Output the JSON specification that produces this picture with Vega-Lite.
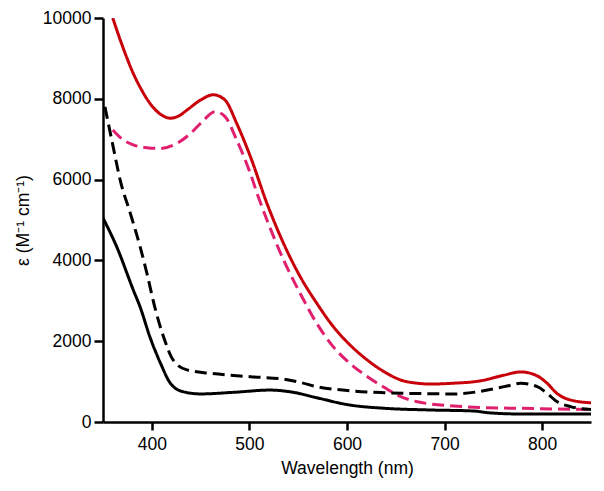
{
  "$schema": "https://vega.github.io/schema/vega-lite/v6.json",
  "autosize": "none",
  "width": 488,
  "height": 404,
  "padding": {"left": 103, "top": 18, "right": 13, "bottom": 69},
  "background": "white",
  "config": {
    "view": {"stroke": null},
    "axis": {
      "grid": false,
      "domainColor": "black",
      "domainWidth": 2.5,
      "tickColor": "black",
      "tickWidth": 2.5,
      "labelFont": "Liberation Sans",
      "labelFontSize": 17.5,
      "labelColor": "black",
      "titleFont": "Liberation Sans",
      "titleFontSize": 17.5,
      "titleFontWeight": "normal",
      "titleColor": "black"
    }
  },
  "data": {
    "values": [
      {"s": "A", "wl": 360, "eps": 10000},
      {"s": "A", "wl": 370, "eps": 9300},
      {"s": "A", "wl": 381, "eps": 8630},
      {"s": "A", "wl": 390, "eps": 8200},
      {"s": "A", "wl": 398, "eps": 7890},
      {"s": "A", "wl": 410, "eps": 7600},
      {"s": "A", "wl": 419, "eps": 7520},
      {"s": "A", "wl": 428, "eps": 7580},
      {"s": "A", "wl": 436, "eps": 7720},
      {"s": "A", "wl": 450, "eps": 7970},
      {"s": "A", "wl": 463, "eps": 8100},
      {"s": "A", "wl": 475, "eps": 7970},
      {"s": "A", "wl": 487, "eps": 7390},
      {"s": "A", "wl": 501, "eps": 6570},
      {"s": "A", "wl": 518, "eps": 5410},
      {"s": "A", "wl": 535, "eps": 4420},
      {"s": "A", "wl": 552, "eps": 3600},
      {"s": "A", "wl": 569, "eps": 2940},
      {"s": "A", "wl": 586, "eps": 2360},
      {"s": "A", "wl": 603, "eps": 1910},
      {"s": "A", "wl": 621, "eps": 1530},
      {"s": "A", "wl": 638, "eps": 1245},
      {"s": "A", "wl": 655, "eps": 1040},
      {"s": "A", "wl": 672, "eps": 960},
      {"s": "A", "wl": 686, "eps": 940},
      {"s": "A", "wl": 709, "eps": 960},
      {"s": "A", "wl": 737, "eps": 1020},
      {"s": "A", "wl": 761, "eps": 1160},
      {"s": "A", "wl": 778, "eps": 1240},
      {"s": "A", "wl": 795, "eps": 1140},
      {"s": "A", "wl": 805, "eps": 960},
      {"s": "A", "wl": 815, "eps": 710},
      {"s": "A", "wl": 829, "eps": 545},
      {"s": "A", "wl": 850, "eps": 475},

      {"s": "B", "wl": 360, "eps": 7230},
      {"s": "B", "wl": 371, "eps": 6980},
      {"s": "B", "wl": 381, "eps": 6860},
      {"s": "B", "wl": 395, "eps": 6790},
      {"s": "B", "wl": 409, "eps": 6770},
      {"s": "B", "wl": 426, "eps": 6900},
      {"s": "B", "wl": 440, "eps": 7150},
      {"s": "B", "wl": 450, "eps": 7390},
      {"s": "B", "wl": 465, "eps": 7680},
      {"s": "B", "wl": 475, "eps": 7560},
      {"s": "B", "wl": 487, "eps": 6980},
      {"s": "B", "wl": 501, "eps": 6150},
      {"s": "B", "wl": 509, "eps": 5580},
      {"s": "B", "wl": 518, "eps": 5000},
      {"s": "B", "wl": 535, "eps": 4010},
      {"s": "B", "wl": 552, "eps": 3185},
      {"s": "B", "wl": 569, "eps": 2440},
      {"s": "B", "wl": 586, "eps": 1860},
      {"s": "B", "wl": 603, "eps": 1450},
      {"s": "B", "wl": 621, "eps": 1120},
      {"s": "B", "wl": 638, "eps": 860},
      {"s": "B", "wl": 655, "eps": 630},
      {"s": "B", "wl": 672, "eps": 500},
      {"s": "B", "wl": 686, "eps": 445},
      {"s": "B", "wl": 709, "eps": 396},
      {"s": "B", "wl": 744, "eps": 354},
      {"s": "B", "wl": 778, "eps": 338},
      {"s": "B", "wl": 812, "eps": 322},
      {"s": "B", "wl": 850, "eps": 310},

      {"s": "C", "wl": 352, "eps": 7800},
      {"s": "C", "wl": 360, "eps": 6860},
      {"s": "C", "wl": 368, "eps": 5950},
      {"s": "C", "wl": 378, "eps": 5165},
      {"s": "C", "wl": 388, "eps": 4340},
      {"s": "C", "wl": 395, "eps": 3680},
      {"s": "C", "wl": 403, "eps": 2850},
      {"s": "C", "wl": 412, "eps": 2110},
      {"s": "C", "wl": 422, "eps": 1530},
      {"s": "C", "wl": 436, "eps": 1290},
      {"s": "C", "wl": 460, "eps": 1205},
      {"s": "C", "wl": 501, "eps": 1120},
      {"s": "C", "wl": 535, "eps": 1060},
      {"s": "C", "wl": 552, "eps": 980},
      {"s": "C", "wl": 569, "eps": 875},
      {"s": "C", "wl": 603, "eps": 775},
      {"s": "C", "wl": 638, "eps": 726},
      {"s": "C", "wl": 686, "eps": 700},
      {"s": "C", "wl": 709, "eps": 693},
      {"s": "C", "wl": 744, "eps": 790},
      {"s": "C", "wl": 764, "eps": 890},
      {"s": "C", "wl": 778, "eps": 958},
      {"s": "C", "wl": 795, "eps": 875},
      {"s": "C", "wl": 805, "eps": 710},
      {"s": "C", "wl": 815, "eps": 505},
      {"s": "C", "wl": 829, "eps": 380},
      {"s": "C", "wl": 850, "eps": 310},

      {"s": "D", "wl": 350, "eps": 5050},
      {"s": "D", "wl": 364, "eps": 4340},
      {"s": "D", "wl": 381, "eps": 3270},
      {"s": "D", "wl": 388, "eps": 2850},
      {"s": "D", "wl": 398, "eps": 2110},
      {"s": "D", "wl": 409, "eps": 1450},
      {"s": "D", "wl": 419, "eps": 960},
      {"s": "D", "wl": 432, "eps": 750},
      {"s": "D", "wl": 450, "eps": 695},
      {"s": "D", "wl": 484, "eps": 735},
      {"s": "D", "wl": 521, "eps": 790},
      {"s": "D", "wl": 545, "eps": 735},
      {"s": "D", "wl": 569, "eps": 600},
      {"s": "D", "wl": 603, "eps": 420},
      {"s": "D", "wl": 638, "eps": 340},
      {"s": "D", "wl": 686, "eps": 297},
      {"s": "D", "wl": 730, "eps": 272},
      {"s": "D", "wl": 744, "eps": 231},
      {"s": "D", "wl": 778, "eps": 198},
      {"s": "D", "wl": 850, "eps": 195}
    ]
  },
  "mark": {"type": "line", "interpolate": "monotone", "strokeWidth": 3, "clip": true},
  "encoding": {
    "x": {
      "field": "wl",
      "type": "quantitative",
      "scale": {"domain": [350, 850], "nice": false, "zero": false},
      "axis": {
        "title": "Wavelength (nm)",
        "values": [400, 500, 600, 700, 800],
        "tickSize": 8,
        "labelPadding": 5,
        "titleY": 46,
        "titleBaseline": "middle"
      }
    },
    "y": {
      "field": "eps",
      "type": "quantitative",
      "scale": {"domain": [0, 10000], "nice": false},
      "axis": {
        "title": "ε (M⁻¹ cm⁻¹)",
        "values": [0, 2000, 4000, 6000, 8000, 10000],
        "format": "d",
        "tickSize": 9,
        "labelPadding": 3,
        "titleX": -80,
        "titleY": 202,
        "titleAlign": "center",
        "titleBaseline": "middle",
        "titleAngle": -90
      }
    },
    "color": {
      "field": "s",
      "type": "nominal",
      "scale": {"domain": ["A", "B", "C", "D"], "range": ["#c8000a", "#e0206e", "#000000", "#000000"]},
      "legend": null
    },
    "strokeDash": {
      "field": "s",
      "type": "nominal",
      "scale": {"domain": ["A", "B", "C", "D"], "range": [[1, 0], [12, 6], [12, 6], [1, 0]]},
      "legend": null
    }
  }
}
